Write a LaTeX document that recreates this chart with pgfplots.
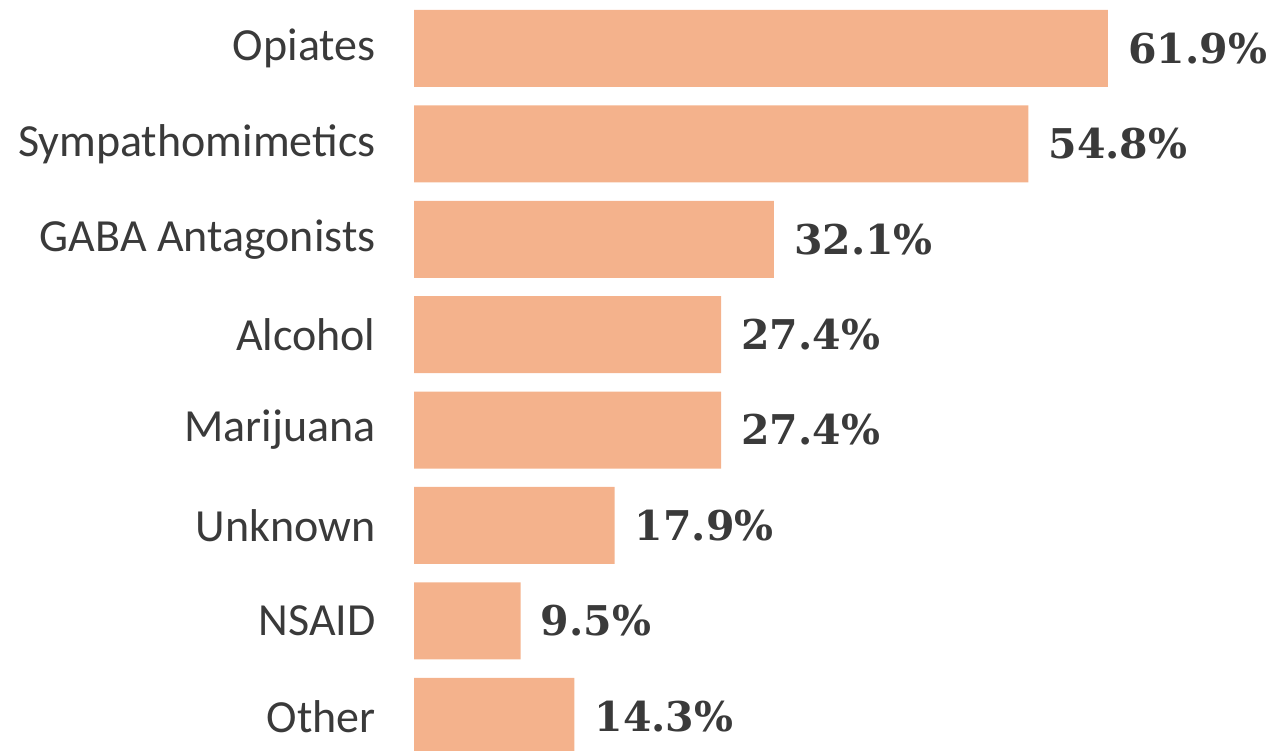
\documentclass[border=0pt]{standalone}
\usepackage{fontspec}
\setmainfont{Carlito}
\newfontfamily\valfont{DejaVu Serif}
\usepackage{pgfplots}
\pgfplotsset{compat=1.18}
\definecolor{barc}{HTML}{F4B28C}
\definecolor{txt}{HTML}{3A3A3A}
\begin{document}
\begin{tikzpicture}
\useasboundingbox (0pt,0pt) rectangle (1279pt,751pt);
\begin{axis}[
  at={(414pt,0pt)}, anchor=south west,
  scale only axis, width=865pt, height=751pt,
  xmin=0, xmax=77.16,
  ymin=-0.508, ymax=7.364, y dir=reverse,
  xbar, bar width=0.807, bar shift=0pt,
  axis line style={draw=none}, tick style={draw=none},
  xtick=\empty,
  ytick={0,...,7},
  yticklabels={Opiates,Sympathomimetics,GABA Antagonists,Alcohol,Marijuana,Unknown,NSAID,Other},
  yticklabel style={font=\fontsize{46}{55}\selectfont, text=txt, anchor=east, inner sep=0pt, xshift=-34pt},
  nodes near coords, point meta=explicit symbolic,
  every node near coord/.append style={font=\valfont\bfseries\fontsize{41}{49}\selectfont, text=txt, anchor=west, inner sep=0pt, xshift=20pt},
  clip=true,
]
\addplot[fill=barc, draw=none] coordinates {
(61.9,0) [61.9\%]
(54.8,1) [54.8\%]
(32.1,2) [32.1\%]
(27.4,3) [27.4\%]
(27.4,4) [27.4\%]
(17.9,5) [17.9\%]
(9.5,6) [9.5\%]
(14.3,7) [14.3\%]
};
\end{axis}
\end{tikzpicture}
\end{document}
